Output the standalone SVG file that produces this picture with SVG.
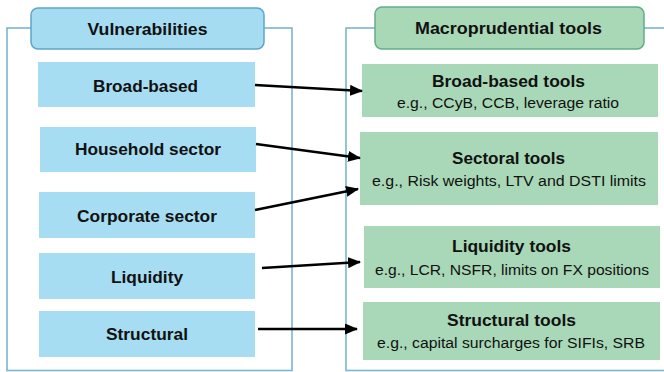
<svg xmlns="http://www.w3.org/2000/svg" width="664" height="372" viewBox="0 0 664 372">
<defs>
<marker id="ah" viewBox="0 0 13 11" refX="12" refY="5.5" markerWidth="13" markerHeight="11" markerUnits="userSpaceOnUse" orient="auto">
<path d="M0,0 L13,5.5 L0,11 z" fill="#000"/>
</marker>
<style>
.frame{fill:none;stroke:#79b6d2;stroke-width:1.6}
.hb{fill:#a5dcf2;stroke:#5ba6c9;stroke-width:1.5}
.hg{fill:#a9d8b7;stroke:#62ad88;stroke-width:1.5}
.vb{fill:#a6ddf2}
.tg{fill:#a8d8b7}
.t{font-family:"Liberation Sans",Arial,sans-serif;fill:#111;text-anchor:middle}
.b{font-weight:bold;font-size:17px}
.r{font-size:15.5px}
.c{stroke:#000;stroke-width:2.6;fill:none;marker-end:url(#ah)}
</style>
</defs>
<rect width="664" height="372" fill="#fff"/>
<rect class="frame" x="7" y="28" width="285" height="342.5"/>
<rect class="frame" x="346" y="28" width="340" height="342.5"/>
<g id="vuln-header"><rect class="hb" x="31" y="8" width="233" height="41" rx="7"/><text class="t b" x="147.5" y="35" textLength="120" lengthAdjust="spacingAndGlyphs">Vulnerabilities</text></g>
<g id="tools-header"><rect class="hg" x="375" y="7" width="269" height="42" rx="7"/><text class="t b" x="508.5" y="34" textLength="187" lengthAdjust="spacingAndGlyphs">Macroprudential tools</text></g>
<g id="v-broad"><rect class="vb" x="38" y="62" width="217" height="45"/><text class="t b" x="145.5" y="92" textLength="105" lengthAdjust="spacingAndGlyphs">Broad-based</text></g>
<g id="v-household"><rect class="vb" x="40" y="127" width="216" height="45"/><text class="t b" x="148" y="155" textLength="146" lengthAdjust="spacingAndGlyphs">Household sector</text></g>
<g id="v-corporate"><rect class="vb" x="39" y="192" width="216" height="46"/><text class="t b" x="147" y="222" textLength="140" lengthAdjust="spacingAndGlyphs">Corporate sector</text></g>
<g id="v-liquidity"><rect class="vb" x="39" y="253" width="216" height="46"/><text class="t b" x="147" y="283" textLength="72" lengthAdjust="spacingAndGlyphs">Liquidity</text></g>
<g id="v-structural"><rect class="vb" x="39" y="311" width="216" height="46"/><text class="t b" x="147" y="340" textLength="82" lengthAdjust="spacingAndGlyphs">Structural</text></g>
<g id="t-broad"><rect class="tg" x="362" y="64" width="296" height="53"/><text class="t b" x="508.5" y="87" textLength="153" lengthAdjust="spacingAndGlyphs">Broad-based tools</text><text class="t r" x="508" y="108" textLength="222" lengthAdjust="spacingAndGlyphs">e.g., CCyB, CCB, leverage ratio</text></g>
<g id="t-sectoral"><rect class="tg" x="360" y="132" width="298" height="73"/><text class="t b" x="508.5" y="164" textLength="113" lengthAdjust="spacingAndGlyphs">Sectoral tools</text><text class="t r" x="509" y="186" textLength="274" lengthAdjust="spacingAndGlyphs">e.g., Risk weights, LTV and DSTI limits</text></g>
<g id="t-liquidity"><rect class="tg" x="364" y="226" width="296" height="62"/><text class="t b" x="511.5" y="252" textLength="119" lengthAdjust="spacingAndGlyphs">Liquidity tools</text><text class="t r" x="512" y="275" textLength="274" lengthAdjust="spacingAndGlyphs">e.g., LCR, NSFR, limits on FX positions</text></g>
<g id="t-structural"><rect class="tg" x="363" y="302" width="297" height="58"/><text class="t b" x="511.5" y="326" textLength="129" lengthAdjust="spacingAndGlyphs">Structural tools</text><text class="t r" x="511" y="348" textLength="268" lengthAdjust="spacingAndGlyphs">e.g., capital surcharges for SIFIs, SRB</text></g>
<g id="connectors">
<line class="c" x1="255" y1="85" x2="362" y2="91"/>
<line class="c" x1="256" y1="144" x2="360" y2="158"/>
<line class="c" x1="255" y1="210" x2="358" y2="189"/>
<line class="c" x1="262" y1="268" x2="360" y2="262"/>
<line class="c" x1="258" y1="329" x2="357" y2="329"/>
</g>
</svg>
